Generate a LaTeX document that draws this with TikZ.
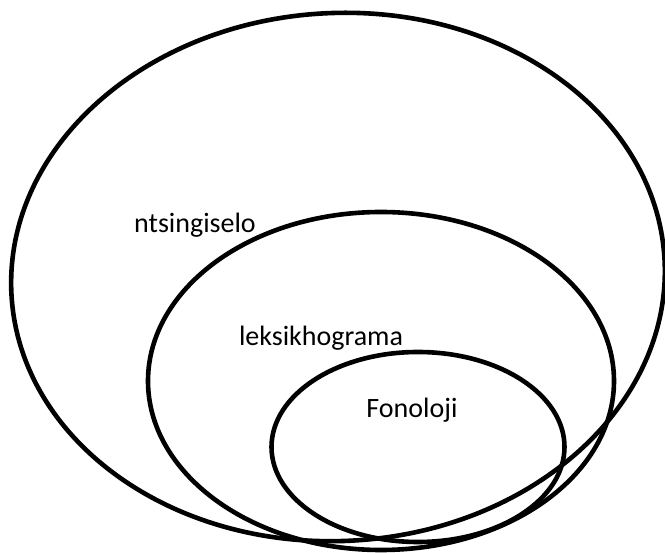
\documentclass[tikz,border=0pt]{standalone}
\usepackage{fontspec}
\setmainfont{Carlito}
\usetikzlibrary{shapes.geometric}
\usetikzlibrary{positioning}
\tikzset{%
  myring/.style={ellipse, draw=black, line width=4.6pt, inner sep=0pt},
  mylabel/.style={font=\fontsize{28}{32}\selectfont, inner sep=0pt}
}

\begin{document}
\begin{tikzpicture}[x=1pt, y=-1pt]

  \useasboundingbox (0,0) rectangle (665,553);
  \node[myring, minimum width=654pt, minimum height=528pt, rotate=3] (outer) at (338,277) {};
  \node[myring, minimum width=466pt, minimum height=338pt] (middle) at (381,381) {};
  \node[myring, minimum width=293pt, minimum height=190pt] (inner) at (418,447) {};

  \node[mylabel] (sense) at (195,225) {ntsingiselo};
  \node[mylabel] (lex) at (321,338) {leksikhograma};
  \node[mylabel] (phon) at (412,410) {Fonoloji};
\end{tikzpicture}
\end{document}
